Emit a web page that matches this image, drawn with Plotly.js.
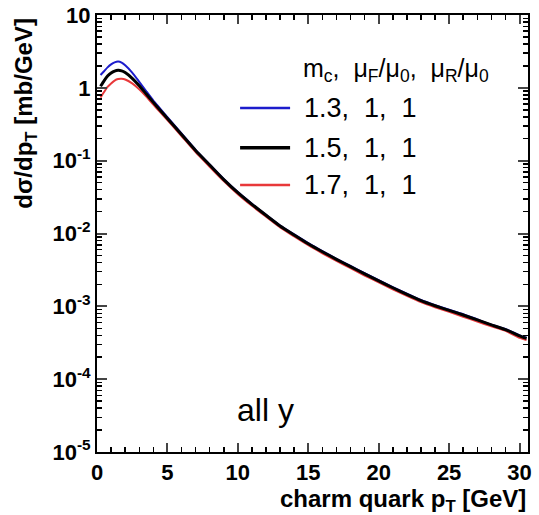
<!DOCTYPE html>
<html><head><meta charset="utf-8">
<script src="https://cdn.plot.ly/plotly-3.0.1.min.js"></script>
<style>html,body{margin:0;padding:0;background:#fff;}#chart{width:539px;height:515px;}</style>
</head><body><div id="chart"></div>
<script>
var pT = [0.25,0.5,0.75,1,1.25,1.5,1.75,2,2.5,3,3.5,4,4.5,5,6,7,8,9,10,11,12,13,14,15,16,17,18,19,20,21,22,23,24,25,26,27,28,29,30,30.5];
var blue13 = [1.50,1.69,1.91,2.10,2.24,2.30,2.22,2.04,1.62,1.21,0.896,0.669,0.515,0.395,0.236,0.141,0.0888,0.0561,0.0370,0.0256,0.0181,0.0129,0.0097,0.00738,0.00573,0.00450,0.00358,0.00285,0.00228,0.00184,0.00149,0.00122,0.00104,0.00090,0.00078,0.00066,0.00056,0.00049,0.00040,0.00037];
var black15 = [1.05,1.25,1.45,1.6,1.7,1.74,1.71,1.62,1.35,1.07,0.822,0.631,0.490,0.380,0.229,0.138,0.0871,0.055,0.0363,0.0251,0.0178,0.0127,0.00955,0.00724,0.00562,0.00442,0.00351,0.00279,0.00224,0.00180,0.00146,0.00120,0.00102,0.00088,0.00076,0.00065,0.000556,0.000479,0.000394,0.000363];
var red17 = [0.735,0.875,1.03,1.15,1.26,1.32,1.33,1.30,1.15,0.952,0.756,0.587,0.461,0.361,0.218,0.131,0.0827,0.0525,0.0347,0.0240,0.0170,0.0121,0.0091,0.00690,0.00535,0.00421,0.00334,0.00265,0.00213,0.00171,0.00139,0.00114,0.00097,0.00084,0.00072,0.00062,0.00053,0.00046,0.00037,0.000345];
var seriesNames = ['1.3,\u00a0\u00a01,\u00a0\u00a01', '1.5,\u00a0\u00a01,\u00a0\u00a01', '1.7,\u00a0\u00a01,\u00a0\u00a01'];
var seriesColors = ['#1c1ccc', '#000000', '#e8383a'];
var seriesWidths = [2, 3, 2];
var legendTitle = 'm<sub>c</sub>,\u00a0\u00a0μ<sub>F</sub>/μ<sub>0</sub>,\u00a0\u00a0μ<sub>R</sub>/μ<sub>0</sub>';
var xTickVals = [0,5,10,15,20,25,30];
var yTickVals = [1e-5,1e-4,1e-3,1e-2,1e-1,1,10];
var yTickText = ['10<sup>-5</sup>','10<sup>-4</sup>','10<sup>-3</sup>','10<sup>-2</sup>','10<sup>-1</sup>','1','10'];

var seriesY = [blue13, black15, red17];
var drawOrder = [2, 0, 1];
var traces = drawOrder.map(function(i){
  return {x: pT, y: seriesY[i], type: 'scatter', mode: 'lines', name: seriesNames[i],
          line: {color: seriesColors[i], width: seriesWidths[i], shape: 'spline', smoothing: 0.5}, showlegend: false};
});

var yMinor = [];
for (var e = -5; e < 1; e++) { for (var d = 2; d <= 9; d++) { yMinor.push(d * Math.pow(10, e)); } }

var fam = 'Liberation Sans, Arial, sans-serif';
var fontB = {family: fam, size: 22, color: '#000', weight: 'bold'};
var shapes = [], annotations = [];
var rowY = [0.787, 0.696, 0.611];
for (var i = 0; i < 3; i++) {
  shapes.push({type: 'line', xref: 'paper', yref: 'paper', x0: 0.332, x1: 0.448, y0: rowY[i], y1: rowY[i],
               line: {color: seriesColors[i], width: seriesWidths[i] + 0.5}});
  annotations.push({xref: 'paper', yref: 'paper', x: 0.475, y: rowY[i], xanchor: 'left', yanchor: 'middle',
                    text: seriesNames[i], showarrow: false, font: {family: fam, size: 27, color: '#000'}});
}
annotations.push({xref: 'paper', yref: 'paper', x: 0.473, y: 0.874, xanchor: 'left', yanchor: 'middle',
                  text: legendTitle, showarrow: false, font: {family: fam, size: 25, color: '#000'}});
annotations.push({xref: 'paper', yref: 'paper', x: 0.392, y: 0.096, xanchor: 'center', yanchor: 'middle',
                  text: 'all y', showarrow: false, font: {family: fam, size: 32, color: '#000'}});
annotations.push({xref: 'paper', yref: 'paper', x: 1.0, y: -0.112, xanchor: 'right', yanchor: 'middle',
                  text: 'charm quark p<sub>T</sub> [GeV]', showarrow: false, font: {family: fam, size: 24, color: '#000', weight: 'bold'}});
annotations.push({xref: 'paper', yref: 'paper', x: -0.165, y: 0.776, xanchor: 'center', yanchor: 'middle', textangle: -90,
                  text: 'dσ/dp<sub>T</sub> [mb/GeV]', showarrow: false, font: {family: fam, size: 24, color: '#000', weight: 'bold'}});

var layout = {
  width: 539, height: 515,
  margin: {l: 97, r: 11, t: 15, b: 63},
  paper_bgcolor: '#fff', plot_bgcolor: '#fff',
  showlegend: false,
  xaxis: {range: [0, 30.6], tickmode: 'array', tickvals: xTickVals, ticks: 'inside', ticklen: 9, tickwidth: 2,
          showline: true, linewidth: 2, linecolor: '#000', mirror: 'ticks', showgrid: false, zeroline: false,
          tickfont: fontB, minor: {dtick: 1, ticks: 'inside', ticklen: 5, tickwidth: 1.5, tickcolor: '#000', showgrid: false}},
  yaxis: {type: 'log', range: [-5, 1], tickmode: 'array', tickvals: yTickVals, ticktext: yTickText,
          ticks: 'inside', ticklen: 10, tickwidth: 2, showline: true, linewidth: 2, linecolor: '#000', mirror: 'ticks',
          showgrid: false, zeroline: false, tickfont: fontB,
          minor: {tickmode: 'array', tickvals: yMinor, ticks: 'inside', ticklen: 5, tickwidth: 1.5, tickcolor: '#000', showgrid: false}},
  shapes: shapes,
  annotations: annotations
};
Plotly.newPlot('chart', traces, layout, {displayModeBar: false, staticPlot: true});
</script></body></html>
